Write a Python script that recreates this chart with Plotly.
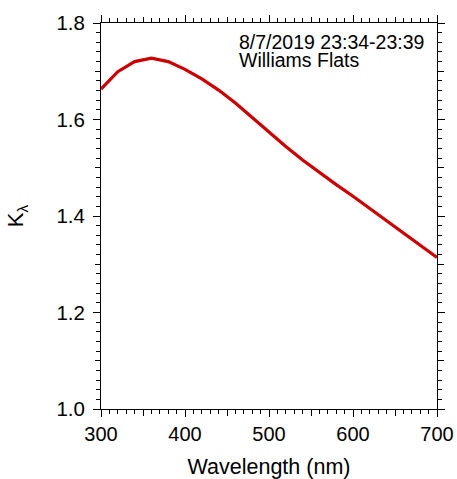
import plotly.graph_objects as go

wavelength = [300, 320, 340, 360, 380, 400, 420, 440, 460, 480, 500, 520, 540,
              560, 580, 600, 620, 640, 660, 680, 700]
k_lambda = [1.663, 1.699, 1.720, 1.727, 1.720, 1.704, 1.684, 1.661, 1.634, 1.604,
            1.573, 1.544, 1.516, 1.490, 1.465, 1.441, 1.416, 1.391, 1.365, 1.340, 1.314]

x_major = [300, 400, 500, 600, 700]
y_major = [1.0, 1.2, 1.4, 1.6, 1.8]
x_mid = [350, 450, 550, 650]
y_mid = [1.1, 1.3, 1.5, 1.7]
annot_lines = ["8/7/2019 23:34-23:39", "Williams Flats"]

FONT = "Liberation Sans, Arial, sans-serif"
RED = "#CC0000"

fig = go.Figure()
fig.add_trace(go.Scatter(x=wavelength, y=k_lambda, mode="lines",
                         line=dict(color=RED, width=3.2), showlegend=False,
                         hoverinfo="skip"))
# helper trace for overlay axes (mid ticks)
fig.add_trace(go.Scatter(x=[None], y=[None], xaxis="x2", yaxis="y2",
                         showlegend=False, hoverinfo="skip"))

axis_common = dict(showline=True, linecolor="black", linewidth=1,
                   ticks="outside", tickcolor="black", tickwidth=1,
                   mirror="allticks", showgrid=False, zeroline=False,
                   automargin=False)

fig.update_layout(
    width=457, height=479,
    margin=dict(l=101, r=20, t=23, b=70),
    paper_bgcolor="white", plot_bgcolor="white",
    font=dict(family=FONT, size=20, color="black"),
    xaxis=dict(range=[300, 700], tickvals=x_major, ticklen=7,
               minor=dict(dtick=10, tick0=300, ticklen=4, ticks="outside",
                          tickcolor="black", showgrid=False),
               title=dict(text="Wavelength (nm)", standoff=14,
                          font=dict(size=21.5)),
               tickfont=dict(size=20), **axis_common),
    yaxis=dict(range=[1.0, 1.8], tickvals=y_major, tickformat=".1f", ticklen=7,
               ticklabelstandoff=4,
               minor=dict(dtick=0.02, tick0=1.0, ticklen=4, ticks="outside",
                          tickcolor="black", showgrid=False),
               title=dict(text="K<sub>λ</sub>", standoff=26,
                          font=dict(size=22)),
               tickfont=dict(size=20.5), **axis_common),
    xaxis2=dict(range=[300, 700], overlaying="x", anchor="y2", tickvals=x_mid,
                ticklen=5.5, showticklabels=False, **axis_common),
    yaxis2=dict(range=[1.0, 1.8], overlaying="y", anchor="x2", tickvals=y_mid,
                ticklen=5.5, showticklabels=False, **axis_common),
)

ys = [0.951, 0.903]
for txt, yy in zip(annot_lines, ys):
    fig.add_annotation(text=txt, xref="paper", yref="paper", x=0.404, y=yy,
                       xanchor="left", yanchor="middle", showarrow=False,
                       font=dict(family=FONT, size=19.5, color="black"))

fig.write_html("out.html")
